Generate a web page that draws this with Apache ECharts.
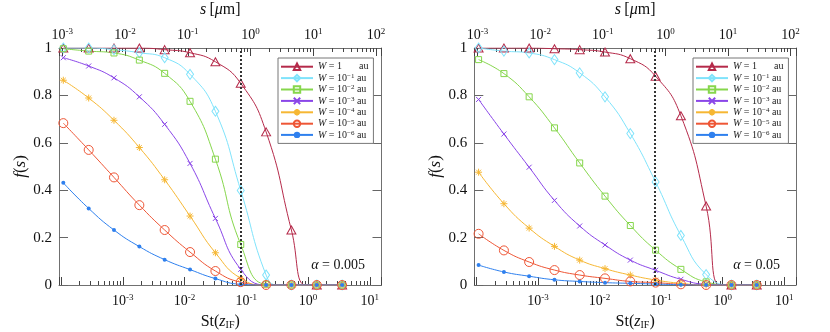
<!DOCTYPE html>
<html lang="en">
<head>
<meta charset="UTF-8">
<title>f(s) vs St</title>
<script src="https://cdn.jsdelivr.net/npm/echarts@6/dist/echarts.min.js"></script>
</head>
<body style="margin:0;background:#fff;">
<div id="main" style="width:830px;height:332px;"></div>
<script type="text/javascript">
    // marker positions on the St(z_IF) axis (shared by every curve)
    var stPts = [1.086e-4, 2.80e-4, 7.19e-4, 1.853e-3, 4.76e-3, 1.227e-2, 3.16e-2, 8.13e-2, 0.2094, 0.538, 1.387, 3.57];

    // alpha = 0.005 (left panel)
    var leftW0 = [1.0, 1.0, 1.0, 1.0, 0.993, 0.980, 0.942, 0.851, 0.646, 0.232, 0, 0];
    var leftW1 = [1.0, 1.0, 0.993, 0.980, 0.959, 0.889, 0.733, 0.399, 0.042, 0, 0, 0];
    var leftW2 = [0.997, 0.987, 0.979, 0.949, 0.893, 0.775, 0.531, 0.171, 0.003, 0, 0, 0];
    var leftW3 = [0.959, 0.924, 0.874, 0.794, 0.678, 0.513, 0.281, 0.066, 0, 0, 0, 0];
    var leftW4 = [0.864, 0.789, 0.695, 0.580, 0.444, 0.291, 0.136, 0.028, 0, 0, 0, 0];
    var leftW5 = [0.683, 0.570, 0.454, 0.337, 0.232, 0.139, 0.059, 0.012, 0, 0, 0, 0];
    var leftW6 = [0.431, 0.323, 0.232, 0.162, 0.107, 0.065, 0.027, 0.003, 0, 0, 0, 0];
    // St where a steep curve reaches zero
    var leftZeroSt = [0.91, 0.32, null, null, null, null, null];

    // alpha = 0.05 (right panel)
    var rightW0 = [1.0, 1.0, 1.0, 0.997, 0.993, 0.983, 0.955, 0.881, 0.714, 0.333, 0, 0];
    var rightW1 = [1.0, 0.987, 0.979, 0.951, 0.895, 0.794, 0.639, 0.435, 0.209, 0.044, 0, 0];
    var rightW2 = [0.951, 0.892, 0.794, 0.663, 0.515, 0.375, 0.251, 0.147, 0.066, 0.013, 0, 0];
    var rightW3 = [0.783, 0.637, 0.497, 0.357, 0.249, 0.169, 0.105, 0.062, 0.024, 0.003, 0, 0];
    var rightW4 = [0.476, 0.343, 0.240, 0.163, 0.105, 0.069, 0.042, 0.021, 0.007, 0, 0, 0];
    var rightW5 = [0.216, 0.146, 0.097, 0.063, 0.042, 0.028, 0.015, 0.010, 0.003, 0, 0, 0];
    var rightW6 = [0.084, 0.055, 0.037, 0.022, 0.015, 0.010, 0.007, 0.004, 0.001, 0, 0, 0];
    var rightZeroSt = [0.90, null, null, null, null, null, null];

    var seriesNames = ['W0', 'W1', 'W2', 'W3', 'W4', 'W5', 'W6'];
    var wExponents = ['0', '-1', '-2', '-3', '-4', '-5', '-6'];
    var alphaLabels = ['0.005', '0.05'];

    var stRange = [9.25e-5, 15.5];   // bottom axis
    var sRange = [8.85e-4, 122];     // top axis, s [um]
    var cutSt = 0.0813;              // dotted line

    var serif = 'Liberation Serif';
    var colors = ['#b52a4a', '#7fe3fb', '#86d64c', '#8a46e8', '#f6b733', '#ee5636', '#2f80ee'];
    // outline-only markers are drawn as paths so the stroke stays 1px
    var symbols = [
        {symbol: 'path://M5,0L10,8.66L0,8.66Z', size: [9, 8], hollow: true},
        {symbol: 'path://M4,0L8,5L4,10L0,5Z', size: [7, 10], hollow: true},
        {symbol: 'path://M0,0L10,0L10,10L0,10Z', size: 6, hollow: true},
        {symbol: 'path://M0,0L10,10M10,0L0,10', size: 5, hollow: true},
        {symbol: 'path://M5,0L5,10M0,5L10,5M1.5,1.5L8.5,8.5M8.5,1.5L1.5,8.5', size: 7, hollow: true},
        {symbol: 'path://M10,5A5,5 0 1 1 0,5A5,5 0 1 1 10,5Z', size: 9, hollow: true},
        {symbol: 'circle', size: 4, hollow: false}
    ];

    function minorTicks(lo, hi) {
        var t = [];
        for (var k = lo; k <= hi; k++) {
            for (var m = 2; m <= 9; m++) {
                t.push(m * Math.pow(10, k));
            }
        }
        return t;
    }

    function powLabel(skip) {
        return function (v) {
            var e = Math.log10(v);
            var r = Math.round(e);
            if (Math.abs(e - r) > 1e-6 || skip.indexOf(r) >= 0) {
                return '';
            }
            return '{b|10}{s|' + r + '}';
        };
    }

    var powRich = {
        b: {fontFamily: serif, fontSize: 14, color: '#111'},
        s: {fontFamily: serif, fontSize: 9, color: '#111', padding: [0, 0, 8, 0]}
    };

    function buildData(vals, zeroSt) {
        var d = [];
        for (var i = 0; i < stPts.length; i++) {
            d.push([stPts[i], vals[i]]);
        }
        if (zeroSt) {
            d.push({value: [zeroSt, 0], symbol: 'none'});
            d.sort(function (a, b) {
                return (a.value || a)[0] - (b.value || b)[0];
            });
        }
        return d;
    }

    var grids = [
        {left: 59, top: 48, width: 322.5, height: 237, outerBoundsMode: 'none', containLabel: false},
        {left: 474.3, top: 48, width: 321.7, height: 237, outerBoundsMode: 'none', containLabel: false}
    ];
    var panelData = [
        [leftW0, leftW1, leftW2, leftW3, leftW4, leftW5, leftW6],
        [rightW0, rightW1, rightW2, rightW3, rightW4, rightW5, rightW6]
    ];
    var panelZero = [leftZeroSt, rightZeroSt];

    var xAxes = [], yAxes = [], series = [], legends = [], graphics = [];
    var frame = {show: true, lineStyle: {color: '#707070', width: 1}};

    for (var p = 0; p < 2; p++) {
        // St main axis (bottom)
        xAxes.push({
            type: 'log', gridIndex: p, position: 'bottom', min: stRange[0], max: stRange[1],
            axisLine: frame,
            axisTick: {inside: true, length: 8, lineStyle: {color: '#444'}},
            splitLine: {show: false},
            axisLabel: {margin: 8, formatter: powLabel([-4]), rich: powRich},
            name: '{n|St(}{i|z}{u|IF}{n|)}', nameLocation: 'middle', nameGap: 29,
            nameMoveOverlap: false,
            nameTextStyle: {
                rich: {
                    n: {fontFamily: serif, fontSize: 16, color: '#111'},
                    i: {fontFamily: serif, fontSize: 16, fontStyle: 'italic', color: '#111'},
                    u: {fontFamily: serif, fontSize: 10, color: '#111', padding: [6, 0, 0, 0]}
                }
            }
        });
        // St minor ticks
        xAxes.push({
            type: 'log', gridIndex: p, position: 'bottom', min: stRange[0], max: stRange[1],
            axisLine: {show: false},
            axisTick: {inside: true, length: 4, customValues: minorTicks(-4, 1), lineStyle: {color: '#444'}},
            axisLabel: {show: false}, splitLine: {show: false}
        });
        // s main axis (top)
        xAxes.push({
            type: 'log', gridIndex: p, position: 'top', min: sRange[0], max: sRange[1],
            axisLine: frame,
            axisTick: {inside: true, length: 8, lineStyle: {color: '#444'}},
            splitLine: {show: false},
            axisLabel: {margin: 4, formatter: powLabel([]), rich: powRich},
            name: '{i|s} {n|[}{i|μ}{n|m]}', nameLocation: 'middle', nameGap: 30,
            nameMoveOverlap: false,
            nameTextStyle: {
                rich: {
                    n: {fontFamily: serif, fontSize: 16, color: '#111'},
                    i: {fontFamily: serif, fontSize: 16, fontStyle: 'italic', color: '#111'}
                }
            }
        });
        // s minor ticks
        xAxes.push({
            type: 'log', gridIndex: p, position: 'top', min: sRange[0], max: sRange[1],
            axisLine: {show: false},
            axisTick: {inside: true, length: 4, customValues: minorTicks(-4, 2), lineStyle: {color: '#444'}},
            axisLabel: {show: false}, splitLine: {show: false}
        });

        yAxes.push({
            type: 'value', gridIndex: p, position: 'left', min: 0, max: 1, interval: 0.2,
            axisLine: frame,
            axisTick: {inside: true, length: 9, lineStyle: {color: '#666'}},
            splitLine: {show: false},
            axisLabel: {margin: 7, fontFamily: serif, fontSize: 15, color: '#111'},
            name: '{i|f}{n|(}{i|s}{n|)}', nameLocation: 'middle', nameGap: 30,
            nameMoveOverlap: false,
            nameTextStyle: {
                rich: {
                    n: {fontFamily: serif, fontSize: 17, color: '#111'},
                    i: {fontFamily: serif, fontSize: 17, fontStyle: 'italic', color: '#111'}
                }
            }
        });
        yAxes.push({
            type: 'value', gridIndex: p, position: 'right', min: 0, max: 1, interval: 0.2,
            axisLine: frame,
            axisTick: {inside: true, length: 9, lineStyle: {color: '#666'}},
            splitLine: {show: false},
            axisLabel: {show: false}
        });

        for (var k = 0; k < 7; k++) {
            var s = {
                name: seriesNames[k],
                type: 'line',
                xAxisIndex: 4 * p,
                yAxisIndex: 2 * p,
                data: buildData(panelData[p][k], panelZero[p][k]),
                smooth: true,
                symbol: symbols[k].symbol,
                symbolSize: symbols[k].size,
                showAllSymbol: true,
                lineStyle: {color: colors[k], width: 1},
                itemStyle: symbols[k].hollow
                    ? {color: 'none', borderColor: colors[k], borderWidth: 1}
                    : {color: colors[k], borderWidth: 0},
                emphasis: {disabled: true},
                animation: false
            };
            if (k === 0) {
                s.markLine = {
                    silent: true,
                    symbol: ['none', 'none'],
                    label: {show: false},
                    lineStyle: {type: [2, 2], color: '#333', width: 2},
                    data: [{xAxis: cutSt}]
                };
            }
            series.push(s);
        }

        legends.push({
            orient: 'vertical',
            left: p === 0 ? 278 : 693,
            top: 58,
            padding: [3, 5, 3, 2],
            itemGap: 0,
            itemWidth: 32,
            itemHeight: 8,
            borderColor: '#777',
            borderWidth: 1,
            backgroundColor: '#fff',
            data: seriesNames,
            formatter: function (name) {
                var e = wExponents[seriesNames.indexOf(name)];
                if (e === '0') {
                    return '{i|W}{t| = 1}{g|}{t|au}';
                }
                return '{i|W}{t| = 10}{s|' + e.replace('-', '−') + '}{t| au}';
            },
            textStyle: {
                fontFamily: serif, fontSize: 10, lineHeight: 11, color: '#222',
                rich: {
                    i: {fontFamily: serif, fontSize: 10, fontStyle: 'italic', lineHeight: 11},
                    t: {fontFamily: serif, fontSize: 10, lineHeight: 11},
                    s: {fontFamily: serif, fontSize: 7, lineHeight: 7, padding: [0, 0, 4, 0]},
                    g: {width: 17}
                }
            }
        });

        graphics.push({
            type: 'text',
            x: p === 0 ? 365 : 780,
            y: 265,
            style: {
                text: '{i|α}{t| = ' + alphaLabels[p] + '}',
                align: 'right',
                verticalAlign: 'middle',
                rich: {
                    i: {fontFamily: serif, fontSize: 14, fontStyle: 'italic', fill: '#111'},
                    t: {fontFamily: serif, fontSize: 14, fill: '#111'}
                }
            }
        });
    }

    var myChart = echarts.init(document.getElementById('main'));
    myChart.setOption({
        animation: false,
        backgroundColor: '#fff',
        grid: grids,
        xAxis: xAxes,
        yAxis: yAxes,
        legend: legends,
        graphic: graphics,
        series: series
    });
</script>
</body>
</html>
